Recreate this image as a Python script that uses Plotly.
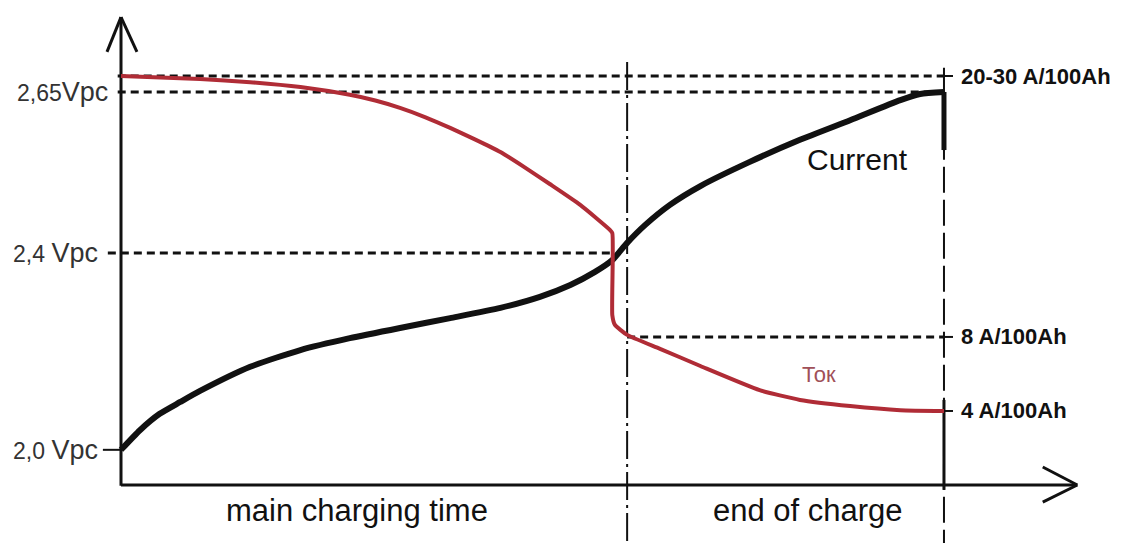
import plotly.graph_objects as go

# ---- data (chart units: time 0..100 = end of charge, level 0..100 = top marker) ----
voltage_time = [0, 2.3, 4.7, 7.2, 9.6, 15.7, 21.8, 27.8, 33.9, 40.0, 46.1, 50.9, 54.6,
                57.6, 59.7, 61.5, 63.7, 66.7, 70.4, 76.4, 82.5, 88.6, 94.7, 97.1, 100]
voltage_level = [8.6, 13.4, 17.4, 20.3, 23.0, 28.9, 33.0, 35.9, 38.4, 40.8, 43.3, 46.0, 48.9,
                 52.1, 55.0, 59.2, 63.6, 68.5, 73.1, 79.0, 84.4, 89.2, 94.1, 95.6, 96.1]

current_time = [0, 9.6, 15.7, 21.8, 27.8, 30.9, 33.9, 37.0, 40.0, 43.0, 46.1, 49.1, 52.1,
                55.8, 59.4, 59.7, 59.7, 60.0, 61.5, 65.5, 70.4, 77.6, 82.5, 88.6, 94.7, 100]
current_level = [100, 99.3, 98.5, 97.3, 95.4, 94.0, 92.2, 89.9, 87.3, 84.5, 81.4, 77.6, 73.6,
                 68.5, 62.4, 61.6, 41.5, 39.2, 36.7, 33.3, 29.1, 23.2, 20.8, 19.3, 18.3, 18.1]

left_tick_levels = [96.1, 56.7, 8.6]
left_tick_labels = ["2,65", "2,4 ", "2,0 "]
left_tick_unit = "Vpc"

right_tick_levels = [100, 36.2, 18.1]
right_tick_labels = ["20-30 A/100Ah", "8 A/100Ah", "4 A/100Ah"]

phase_labels = ["main charging time", "end of charge"]
phase_centers = [28.7, 83.5]
phase_boundary = 61.5
end_time = 100

BLACK = "#111111"
RED = "#b02c36"
FONT = "Liberation Sans, Arial, sans-serif"

fig = go.Figure()

shapes = []
def line(x0, y0, x1, y1, w=3, dash="solid", color=BLACK):
    shapes.append(dict(type="line", xref="x", yref="y", x0=x0, y0=y0, x1=x1, y1=y1,
                       line=dict(color=color, width=w, dash=dash), layer="below"))

# axes with open arrowheads
line(0, -0.2, 0, 114.4, w=3)
line(0, 114.4, -1.7, 105.9, w=3)
line(0, 114.4, 1.94, 105.9, w=3)
line(0, 0, 116.2, 0, w=3)
line(116.2, 0, 112.0, 4.4, w=3)
line(116.2, 0, 112.0, -4.2, w=3)

# horizontal dashed reference lines
line(-0.4, 100, end_time, 100, w=3, dash="8px,5px")
line(-0.4, left_tick_levels[0], end_time, left_tick_levels[0], w=3, dash="8px,5px")
line(-1.6, left_tick_levels[1], 59.7, left_tick_levels[1], w=3, dash="8px,5px")
line(-2.2, left_tick_levels[2], 0, left_tick_levels[2], w=2)
line(phase_boundary, right_tick_levels[1], end_time, right_tick_levels[1], w=3, dash="8px,5px")

# right-side ticks
for lv in right_tick_levels:
    line(end_time, lv, 101.1, lv, w=2)

# phase boundary (dash-dot) and end-of-charge line
line(phase_boundary, 103.4, phase_boundary, -14.2, w=2, dash="28px,5px,3px,5px")
line(end_time, 102.0, end_time, -14.2, w=2, dash="26px,7px")
line(end_time, 96.1, end_time, 81.9, w=5)
line(end_time, 20.8, end_time, -1.2, w=3)

fig.add_trace(go.Scatter(x=voltage_time, y=voltage_level, mode="lines",
                         line=dict(color=BLACK, width=6, shape="spline", smoothing=0.6),
                         hoverinfo="skip", showlegend=False))
fig.add_trace(go.Scatter(x=current_time, y=current_level, mode="lines",
                         line=dict(color=RED, width=4, shape="spline", smoothing=0.5),
                         hoverinfo="skip", showlegend=False))

annotations = []
label_right = [-1.35, -2.55, -2.55]
for lv, lab, xr in zip(left_tick_levels, left_tick_labels, label_right):
    annotations.append(dict(x=xr, y=lv, xref="x", yref="y", xanchor="right", yanchor="middle",
                            text=f"<span style='font-size:23px'>{lab}</span>{left_tick_unit}",
                            showarrow=False, font=dict(family=FONT, size=27, color="#333333")))
for lv, lab in zip(right_tick_levels, right_tick_labels):
    annotations.append(dict(x=101.8, y=lv, xref="x", yref="y", xanchor="left", yanchor="middle",
                            text=f"<b>{lab}</b>", showarrow=False,
                            font=dict(family=FONT, size=22, color="#111111")))
for c, lab in zip(phase_centers, phase_labels):
    annotations.append(dict(x=c, y=-6.3, xref="x", yref="y", xanchor="center", yanchor="middle",
                            text=lab, showarrow=False,
                            font=dict(family=FONT, size=31, color="#111111")))
annotations.append(dict(x=89.5, y=79.5, xref="x", yref="y", text="Current", showarrow=False,
                        font=dict(family=FONT, size=30, color="#111111")))
annotations.append(dict(x=84.8, y=26.9, xref="x", yref="y", text="Ток", showarrow=False,
                        font=dict(family=FONT, size=22, color="#a05058")))

fig.update_layout(
    width=1133, height=543,
    margin=dict(l=0, r=0, t=0, b=0),
    paper_bgcolor="white", plot_bgcolor="white",
    xaxis=dict(range=[-13.73, 123.94], visible=False, fixedrange=True),
    yaxis=dict(range=[-16.14, 116.63], visible=False, fixedrange=True),
    shapes=shapes, annotations=annotations,
    hovermode=False, showlegend=False,
)

fig.write_html("out.html")
